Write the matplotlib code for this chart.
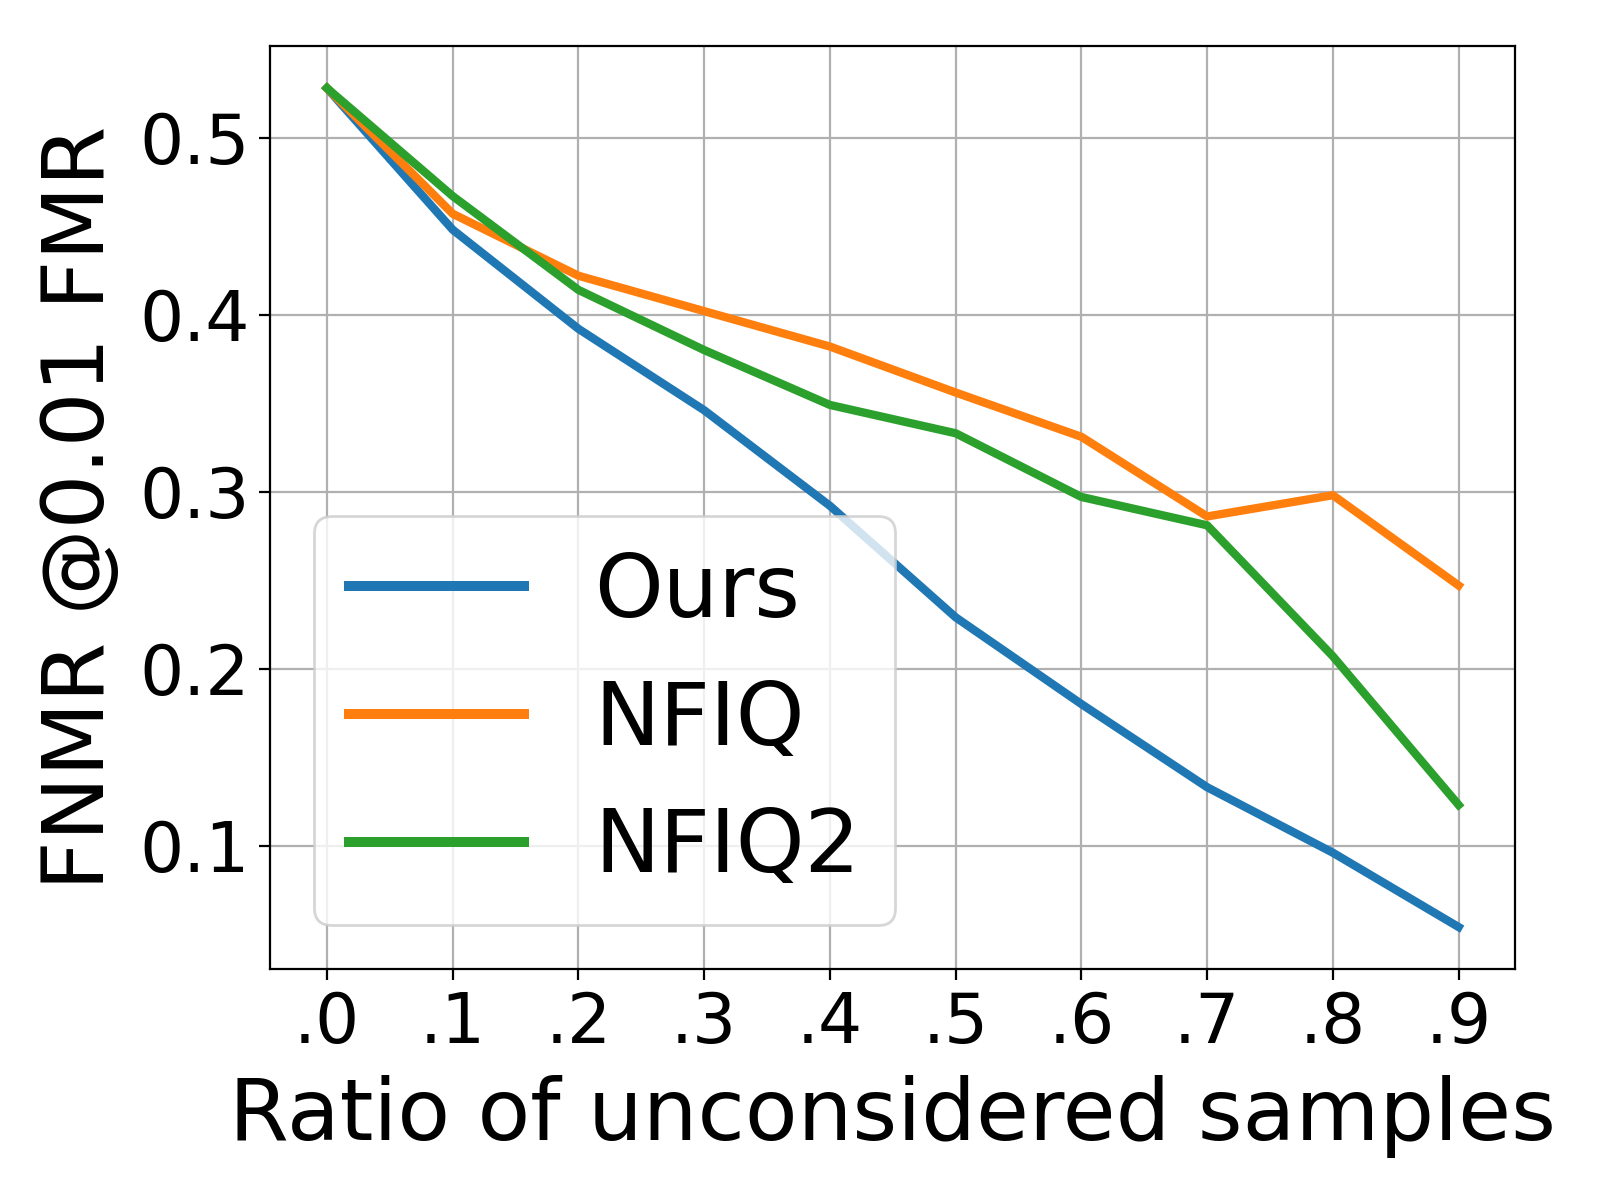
import matplotlib
matplotlib.use("Agg")
import matplotlib.pyplot as plt
import numpy as np

# ratio of unconsidered samples
ratios = [0.0, 0.1, 0.2, 0.3, 0.4, 0.5, 0.6, 0.7, 0.8, 0.9]
tick_labels = [".0", ".1", ".2", ".3", ".4", ".5", ".6", ".7", ".8", ".9"]

# FNMR @0.01 FMR for each method
ours = [0.528, 0.448, 0.392, 0.346, 0.292, 0.229, 0.180, 0.133, 0.096, 0.054]
nfiq = [0.528, 0.457, 0.422, 0.402, 0.382, 0.356, 0.331, 0.286, 0.298, 0.247]
nfiq2 = [0.528, 0.467, 0.414, 0.380, 0.349, 0.333, 0.297, 0.281, 0.207, 0.123]

fig = plt.figure(figsize=(8, 6), dpi=200)
ax = fig.add_axes([0.169, 0.1925, 0.778, 0.769])

ax.plot(ratios, ours, lw=3.0, label="Ours")
ax.plot(ratios, nfiq, lw=3.0, label="NFIQ")
ax.plot(ratios, nfiq2, lw=3.0, label="NFIQ2")

ax.set_xticks(ratios)
ax.set_xticklabels(tick_labels)
ax.set_yticks([0.1, 0.2, 0.3, 0.4, 0.5])
ax.tick_params(labelsize=25, length=4)
ax.grid(True)

ax.set_xlabel("Ratio of unconsidered samples", fontsize=31, labelpad=6.5)
ax.set_ylabel("FNMR @0.01 FMR", fontsize=31, labelpad=6)

leg = ax.legend(loc="lower left", fontsize=31.5)
for line in leg.get_lines():
    line.set_linewidth(3.6)

fig.savefig("out.png", dpi=200)
